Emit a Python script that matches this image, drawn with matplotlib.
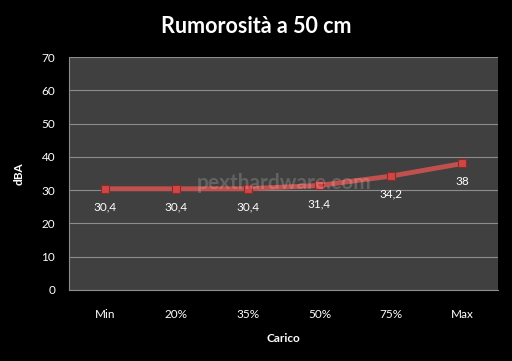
import matplotlib
matplotlib.use("Agg")
import matplotlib.pyplot as plt

categories = ["Min", "20%", "35%", "50%", "75%", "Max"]
dba = [30.4, 30.4, 30.4, 31.4, 34.2, 38]
labels = ["30,4", "30,4", "30,4", "31,4", "34,2", "38"]

plt.rcParams['font.family'] = ['Lato', 'DejaVu Sans']

fig = plt.figure(figsize=(5.12, 3.61), dpi=100, facecolor='black')
ax = fig.add_axes([0.135, 0.197, 0.838, 0.645])
ax.set_facecolor('#404040')

x = range(len(categories))
ax.plot(x, dba, color='#c0504d', lw=3.5, zorder=3,
        marker='s', ms=6, mfc='#d04545', mec='#8c2a2a', mew=0.8)
for xi, yi, lab in zip(x, dba, labels):
    ax.annotate(lab, (xi, yi), xytext=(0, -13), textcoords='offset points',
                ha='center', va='center', color='white', fontsize=8.5, zorder=4)

ax.set_xlim(-0.5, len(categories) - 0.5)
ax.set_ylim(0, 70)
ax.set_yticks(range(0, 71, 10))
ax.set_xticks(list(x))
ax.set_xticklabels(categories)
ax.grid(axis='y', color='#8c8c8c', lw=0.8)
ax.set_axisbelow(True)
ax.tick_params(colors='white', labelsize=8.5, length=0, pad=10)
ax.tick_params(axis='x', pad=14)
for s in ['top', 'right']:
    ax.spines[s].set_visible(False)
ax.spines['left'].set_color('#8c8c8c')
ax.spines['bottom'].set_color('#8c8c8c')

ax.set_xlabel('Carico', color='white', fontsize=8.5, fontweight='bold', labelpad=9)
ax.set_ylabel('dBA', color='white', fontsize=8.5, fontweight='bold', labelpad=12)
fig.suptitle('Rumorosità a 50 cm', color='white', fontsize=15.5, fontweight='bold', y=0.955)

ax.text(0.5, 0.46, 'pexthardware.com', transform=ax.transAxes, ha='center',
        va='center', color='white', alpha=0.18, fontsize=15, fontweight='bold', zorder=5)

fig.savefig('out.png', dpi=100, facecolor='black')
